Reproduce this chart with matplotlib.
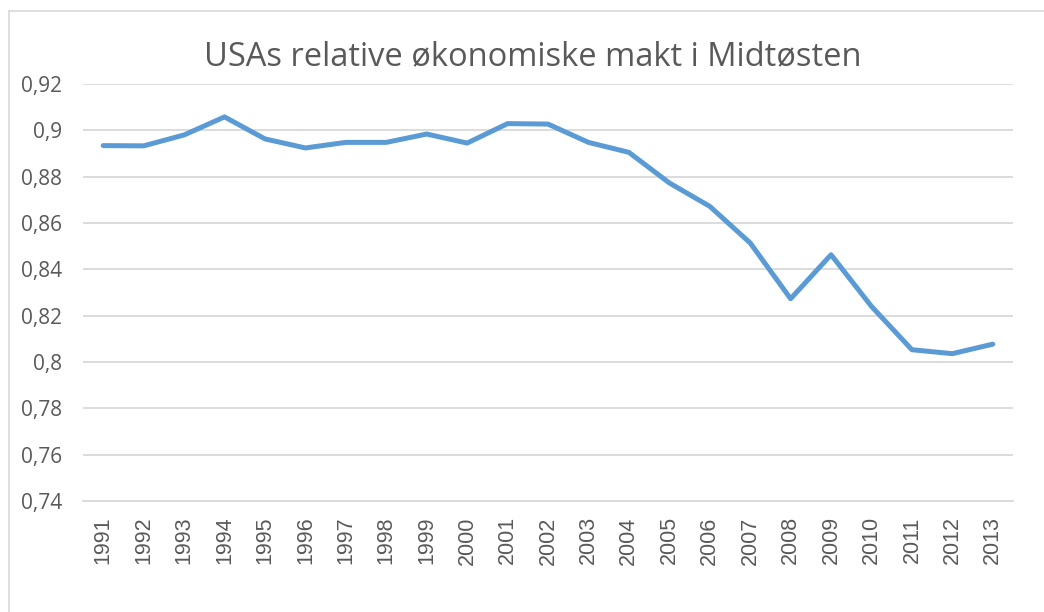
import matplotlib
matplotlib.use('Agg')
import matplotlib.pyplot as plt
from matplotlib.lines import Line2D
from matplotlib.ticker import FuncFormatter

# data
years = [str(y) for y in range(1991, 2014)]
values = [0.8934, 0.8933, 0.8980, 0.9058, 0.8963, 0.8924, 0.8948, 0.8948,
          0.8984, 0.8945, 0.9029, 0.9027, 0.8948, 0.8905, 0.8773, 0.8672,
          0.8514, 0.8273, 0.8463, 0.8240, 0.8053, 0.8036, 0.8077]
yticks = [0.74, 0.76, 0.78, 0.80, 0.82, 0.84, 0.86, 0.88, 0.90, 0.92]

fig = plt.figure(figsize=(10.44, 6.12), dpi=100)
ax = fig.add_axes([83/1044, 1 - 501/612, (1013 - 83)/1044, (501 - 84)/612])

x = list(range(len(years)))
ax.plot(x, values, color='#5B9BD5', linewidth=3.6, solid_capstyle='round',
        solid_joinstyle='round', zorder=3)

ax.set_xlim(-0.5, len(years) - 0.5)
ax.set_ylim(0.74, 0.92)
ax.set_yticks(yticks)
ax.yaxis.set_major_formatter(FuncFormatter(lambda v, p: ('%g' % round(v, 2)).replace('.', ',')))
ax.set_xticks(x)
ax.set_xticklabels(years, rotation=90, fontfamily='Liberation Sans', fontsize=15.5, color='#595959')
for lab in ax.get_yticklabels():
    lab.set_fontfamily('Open Sans')
    lab.set_fontsize(15)
    lab.set_color('#595959')

ax.grid(axis='y', color='#D9D9D9', linewidth=1.3, zorder=0)
ax.tick_params(axis='both', length=0)
ax.tick_params(axis='y', pad=15)
ax.tick_params(axis='x', pad=11)
for s in ['left', 'right', 'top']:
    ax.spines[s].set_visible(False)
ax.spines['bottom'].set_color('#D9D9D9')
ax.spines['bottom'].set_linewidth(1.3)

fig.text(533/1044, 1 - 57/612, 'USAs relative økonomiske makt i Midtøsten',
         ha='center', va='center', fontsize=23.5, fontfamily='Open Sans', color='#595959')

# chart area border (left and top edges visible)
fig.add_artist(Line2D([9/1044, 9/1044], [0, 1 - 11/612], color='#D9D9D9', linewidth=1.2))
fig.add_artist(Line2D([9/1044, 1], [1 - 11/612, 1 - 11/612], color='#D9D9D9', linewidth=1.2))

fig.savefig('out.png', dpi=100)
